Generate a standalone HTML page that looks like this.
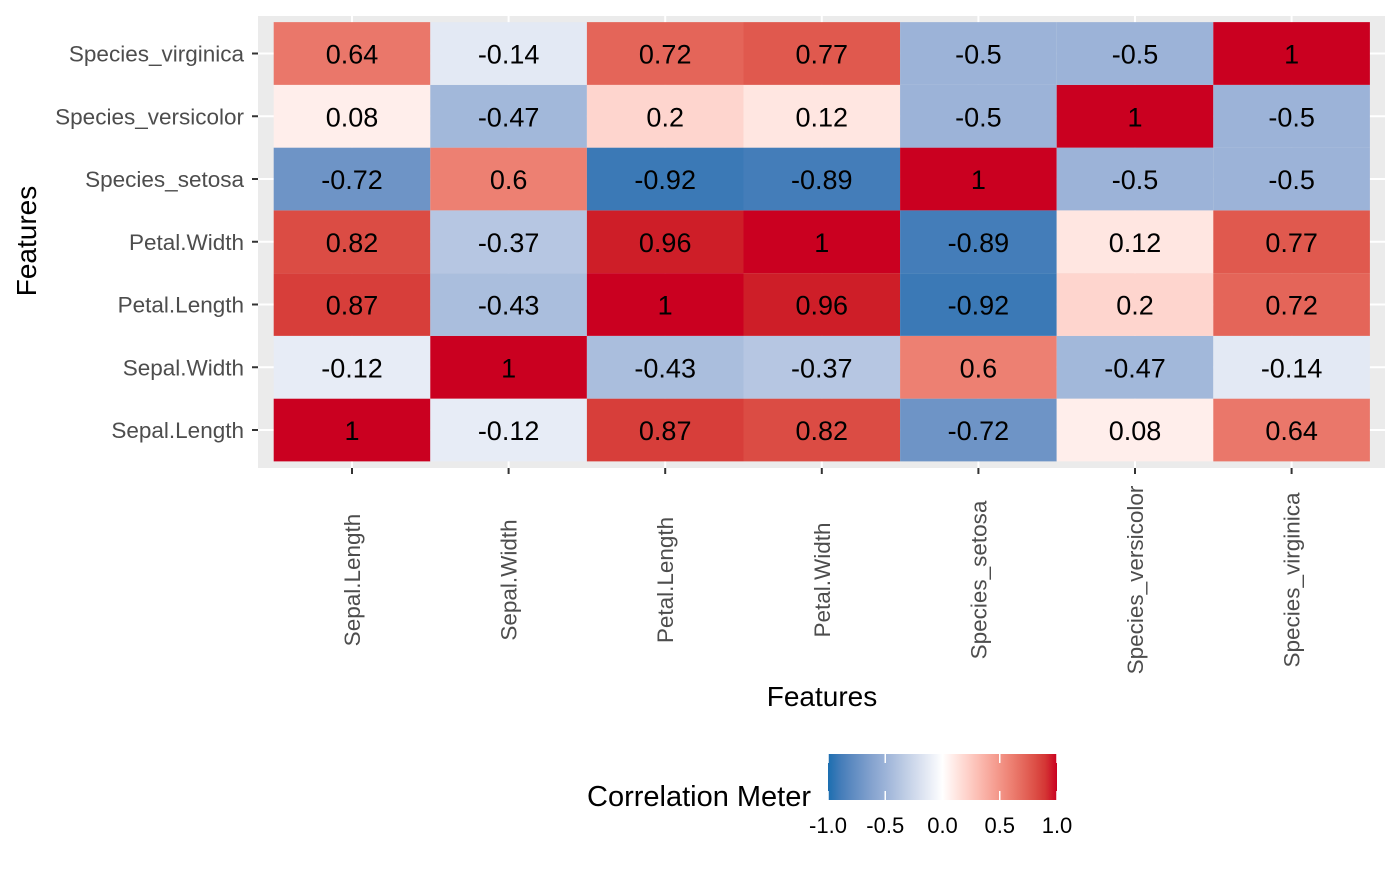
<!DOCTYPE html>
<html><head><meta charset="utf-8"><style>
body{margin:0;background:#fff;font-family:"Liberation Sans",Arial,sans-serif}
</style></head><body>
<svg id="c" width="1400" height="866" xmlns="http://www.w3.org/2000/svg">
<defs><linearGradient id="g" x1="0" x2="1" y1="0" y2="0"></linearGradient></defs>
<rect x="258" y="16" width="1127" height="452" fill="#ebebeb"/>
<g id="grid"></g><g id="tiles"></g><g id="axes"></g>
<text x="822" y="706" font-size="28" text-anchor="middle" fill="#000">Features</text>
<text transform="translate(36,241) rotate(-90)" font-size="28" text-anchor="middle" fill="#000">Features</text>
<text x="587" y="806" font-size="29" fill="#000">Correlation Meter</text>
<rect x="828" y="754" width="229" height="46" fill="url(#g)"/>
<g id="legend"></g>
</svg>
<script>
const features=["Sepal.Length","Sepal.Width","Petal.Length","Petal.Width","Species_setosa","Species_versicolor","Species_virginica"];
const corr=[
[1,-0.12,0.87,0.82,-0.72,0.08,0.64],
[-0.12,1,-0.43,-0.37,0.6,-0.47,-0.14],
[0.87,-0.43,1,0.96,-0.92,0.2,0.72],
[0.82,-0.37,0.96,1,-0.89,0.12,0.77],
[-0.72,0.6,-0.92,-0.89,1,-0.5,-0.5],
[0.08,-0.47,0.2,0.12,-0.5,1,-0.5],
[0.64,-0.14,0.72,0.77,-0.5,-0.5,1]];
const legendTicks=[-1,-0.5,0,0.5,1];
const NS="http://www.w3.org/2000/svg";
const cw=156.6, rh=62.75;
const xc=i=>352+i*cw, yc=j=>430-j*rh, lx=v=>828+(v+1)/2*229;
function s2l(c){c/=255;return c<=0.04045?c/12.92:Math.pow((c+0.055)/1.055,2.4);}
function l2s(c){c=c<=0.0031308?12.92*c:1.055*Math.pow(c,1/2.4)-0.055;return Math.max(0,Math.min(255,Math.round(c*255)));}
function toLab(h){const r=s2l(parseInt(h.slice(1,3),16)),g=s2l(parseInt(h.slice(3,5),16)),b=s2l(parseInt(h.slice(5,7),16));
 let X=(0.4124*r+0.3576*g+0.1805*b)/0.95047,Y=0.2126*r+0.7152*g+0.0722*b,Z=(0.0193*r+0.1192*g+0.9505*b)/1.08883;
 const f=t=>t>0.008856?Math.cbrt(t):7.787*t+16/116;X=f(X);Y=f(Y);Z=f(Z);return [116*Y-16,500*(X-Y),200*(Y-Z)];}
function fromLab(L,a,b){let Y=(L+16)/116,X=a/500+Y,Z=Y-b/200;const fi=t=>t*t*t>0.008856?t*t*t:(t-16/116)/7.787;
 X=fi(X)*0.95047;Y=fi(Y);Z=fi(Z)*1.08883;
 const r=3.2406*X-1.5372*Y-0.4986*Z,g=-0.9689*X+1.8758*Y+0.0415*Z,bb=0.0557*X-0.2040*Y+1.0570*Z;return `rgb(${l2s(r)},${l2s(g)},${l2s(bb)})`;}
const LO=toLab("#1b6eb0"),MID=toLab("#ffffff"),HI=toLab("#ca0020");
function col(v){const e=v<0?LO:HI,t=Math.abs(v);return fromLab(MID[0]+(e[0]-MID[0])*t,MID[1]+(e[1]-MID[1])*t,MID[2]+(e[2]-MID[2])*t);}
function mk(p,tag,at,txt){const e=document.createElementNS(NS,tag);for(const k in at)e.setAttribute(k,at[k]);if(txt!=null)e.textContent=txt;p.appendChild(e);return e;}
const gr=document.getElementById('g');
for(let k=0;k<=20;k++){mk(gr,'stop',{offset:k/20,'stop-color':col(-1+k/10)});}
const grid=document.getElementById('grid'),tiles=document.getElementById('tiles'),axes=document.getElementById('axes'),leg=document.getElementById('legend');
features.forEach((f,i)=>{
 let l=mk(grid,'line',{x1:xc(i),x2:xc(i),y1:16,y2:468,stroke:'#fff','stroke-width':2});
 
 
 l=mk(grid,'line',{x1:258,x2:1385,y1:yc(i),y2:yc(i),stroke:'#fff','stroke-width':2});
 
 
 l=mk(axes,'line',{x1:xc(i),x2:xc(i),y1:468,y2:474,stroke:'#333','stroke-width':2});
 
 
 l=mk(axes,'line',{x1:252,x2:258,y1:yc(i),y2:yc(i),stroke:'#333','stroke-width':2});
 
 
 let t=mk(axes,'text',{transform:`translate(${xc(i)+8},580) rotate(-90)`,'font-size':22.5,'text-anchor':'middle',fill:'#4d4d4d'},f);
 
 
 t=mk(axes,'text',{x:244,y:yc(i)+8,'font-size':22.5,'text-anchor':'end',fill:'#4d4d4d'},f);
 
 
});
for(let j=0;j<features.length;j++)for(let i=0;i<features.length;i++){
 const v=corr[j][i];
 const r=mk(tiles,'rect',{x:xc(i)-cw/2,y:yc(j)-rh/2,width:cw,height:rh,fill:col(v)});
 
 
 const t=mk(tiles,'text',{x:xc(i),y:yc(j)+10,'font-size':27,'text-anchor':'middle',fill:'#000'},String(v));
 
 
}
legendTicks.forEach(v=>{
 let l=mk(leg,'line',{x1:lx(v),x2:lx(v),y1:754,y2:763,stroke:'#fff','stroke-width':1.5});
 
 
 l=mk(leg,'line',{x1:lx(v),x2:lx(v),y1:791,y2:800,stroke:'#fff','stroke-width':1.5});
 
 
 const t=mk(leg,'text',{x:lx(v),y:833,'font-size':22,'text-anchor':'middle',fill:'#000'},v.toFixed(1));
 
 
});
</script>
</body></html>
